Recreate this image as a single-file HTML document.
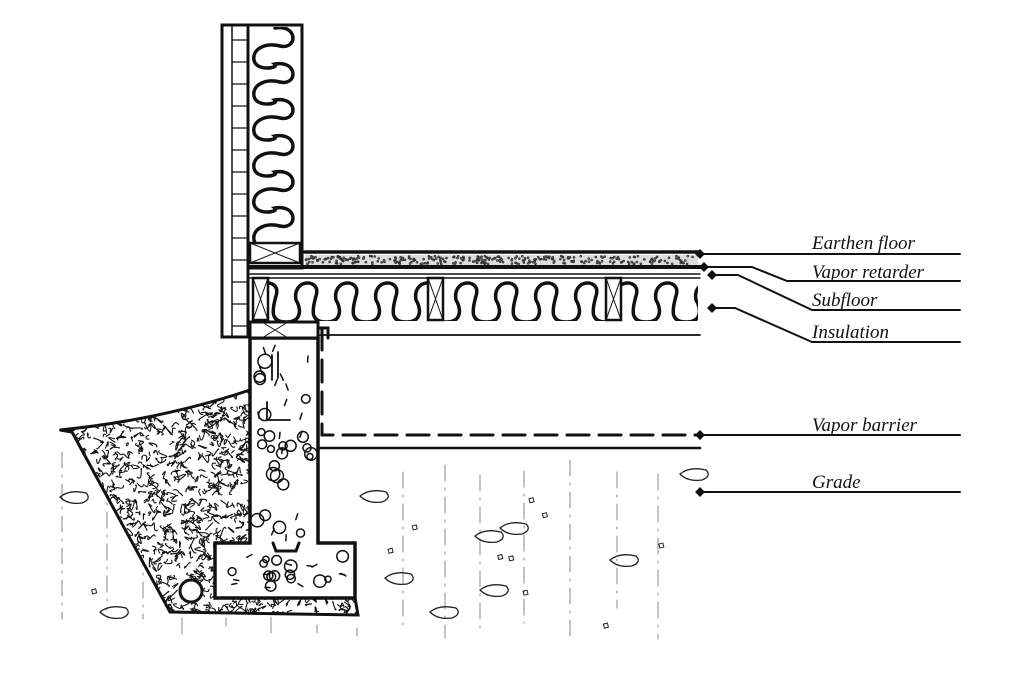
<!DOCTYPE html>
<html><head><meta charset="utf-8"><style>
html,body{margin:0;padding:0;background:#fff;}
svg{display:block}
text{font-family:"Liberation Serif",serif;font-style:italic;font-size:19px;fill:#111}
</style></head><body>
<svg id="s" width="1024" height="683" viewBox="0 0 1024 683" xmlns="http://www.w3.org/2000/svg">
<defs>
<clipPath id="wedge"><path d="M60,430 Q160,420 250,390 L250,545 L215,545 L215,598 L355,598 L358,615 L170,612 Q120,520 72,432 Z"/></clipPath>
<clipPath id="wallc"><rect x="250" y="27" width="50" height="216"/></clipPath>
<clipPath id="floorc"><rect x="250" y="279" width="448" height="42"/></clipPath>
</defs>
<g fill="none" stroke="#111" stroke-linecap="round">
<g id="soil" stroke="#888" stroke-width="1" stroke-dasharray="16 7 2 7"></g>
<path d="M60,430 Q160,420 250,390 L250,545 L215,545 L215,598 L355,598 L358,615 L170,612 Q120,520 72,432 Z" fill="#fff" stroke-width="3"/>
<g id="gravel" stroke-width="1.1" clip-path="url(#wedge)"></g>
<circle cx="191" cy="591" r="11" fill="#fff" stroke-width="3"/>
<path d="M250,338 L318,338 L318,543 L355,543 L355,598 L215,598 L215,543 L250,543 Z" fill="#fff" stroke-width="3.5"/>
<path d="M273,543 L276,551 L296,551 L299,543" stroke-width="3"/>
<g id="agg" stroke-width="1.5"></g>
<path d="M272,355 L272,380 M278,352 L278,378 M267,402 L267,420 L290,420" stroke-width="1.8"/>
<path d="M318,448 L700,448" stroke-width="2.5"/>
<path d="M60,430 L74,430" stroke-width="2"/>
<path d="M322,328 L322,435 L700,435" stroke-width="3" stroke-dasharray="22 10"/>
<rect x="222" y="25" width="26" height="312" fill="#fff" stroke-width="3"/>
<path d="M232,25 L232,337" stroke-width="1.5"/>
<g id="brick" stroke-width="1.2"></g>
<rect x="248" y="25" width="54" height="243" fill="#fff" stroke-width="3"/>
<path d="M302,25 L302,252 L312,252" stroke-width="3"/>
<path id="wwave" stroke-width="3.5" clip-path="url(#wallc)"/>
<rect x="250" y="243" width="50" height="20" stroke-width="2.5"/>
<path d="M250,243 L300,263 M300,243 L250,263" stroke-width="1"/>
<path d="M305,252 L700,252" stroke-width="3.5"/>
<rect x="305" y="255" width="393" height="10" fill="#ddd" stroke="none"/>
<g id="dots" stroke="#333" stroke-width="1"></g>
<path d="M250,267 L700,267" stroke-width="4"/>
<path d="M250,274 L700,274" stroke-width="1.5"/>
<path d="M250,278 L700,278" stroke-width="1.5"/>
<path id="fwave" stroke-width="3.5" clip-path="url(#floorc)"/>
<g stroke-width="2.5" fill="#fff">
<rect x="253" y="278" width="15" height="42"/>
<rect x="428" y="278" width="15" height="42"/>
<rect x="606" y="278" width="15" height="42"/>
</g>
<path d="M253,278 L268,320 M268,278 L253,320 M428,278 L443,320 M443,278 L428,320 M606,278 L621,320 M621,278 L606,320" stroke-width="1"/>
<path d="M318,335 L700,335" stroke-width="1.8"/>
<rect x="250" y="322" width="68" height="16" fill="#fff" stroke-width="3"/>
<path d="M250,322 L318,322 L318,328 L328,328 L328,338" stroke-width="3"/>
<path d="M262,322 L288,338 M288,322 L262,338" stroke-width="1"/>
<g stroke-width="2">
<path d="M700,254 L960,254"/>
<path d="M704,267 L752,267 L787,281 L960,281"/>
<path d="M712,275 L738,275 L812,310 L960,310"/>
<path d="M712,308 L735,308 L812,342 L960,342"/>
<path d="M700,435 L960,435"/>
<path d="M700,492 L960,492"/>
</g>
</g>
<g fill="#111">
<path d="M700,249 l5,5 l-5,5 l-5,-5z"/>
<path d="M704,262 l5,5 l-5,5 l-5,-5z"/>
<path d="M712,270 l5,5 l-5,5 l-5,-5z"/>
<path d="M712,303 l5,5 l-5,5 l-5,-5z"/>
<path d="M700,430 l5,5 l-5,5 l-5,-5z"/>
<path d="M700,487 l5,5 l-5,5 l-5,-5z"/>
</g>
<text x="812" y="249">Earthen floor</text>
<text x="812" y="278">Vapor retarder</text>
<text x="812" y="306">Subfloor</text>
<text x="812" y="338">Insulation</text>
<text x="812" y="431">Vapor barrier</text>
<text x="812" y="488">Grade</text>
</svg>
<script>
var NS="http://www.w3.org/2000/svg";
function add(g,tag,attrs){var e=document.createElementNS(NS,tag);for(var k in attrs)e.setAttribute(k,attrs[k]);document.getElementById(g).appendChild(e);}
// floor wave: omega-like lobes
var d="M262,300";var x=262;
while(x<700){
 d+=" C"+(x+2)+",280 "+(x+22)+",280 "+(x+22)+",292"+
    " C"+(x+22)+",302 "+(x+14)+",306 "+(x+20)+",314"+
    " C"+(x+28)+",322 "+(x+44)+",320 "+(x+42)+",306"+
    " C"+(x+40)+",298 "+(x+34)+",296 "+(x+38)+",290";
 // connect upward to next lobe
 d+=" C"+(x+42)+",282 "+(x+50)+",290 "+(x+48)+",300";
 x+=46; d+=" M"+x+",300";
}
// simpler continuous wave instead
d="M256,300";x=256;
while(x<700){
 d+=" C"+(x-4)+",278 "+(x+26)+",278 "+(x+20)+",296 C"+(x+16)+",310 "+(x+14)+",322 "+(x+30)+",322 C"+(x+48)+",322 "+(x+44)+",306 "+(x+40)+",300";
 x+=40;
 d+=" C"+(x)+",300 "+(x)+",300 "+(x)+",300";
}
document.getElementById("fwave").setAttribute("d",d);
// wall wave: horizontal lobes stacked
var w="M275,28";var y=28;
while(y<245){
 w+=" C298,"+(y-4)+" 298,"+(y+22)+" 280,"+(y+18)+" C264,"+(y+14)+" 252,"+(y+22)+" 254,"+(y+32)+" C256,"+(y+44)+" 280,"+(y+40)+" 275,"+(y+36);
 y+=36;
}
document.getElementById("wwave").setAttribute("d",w);
for(var y=40;y<335;y+=22){add("brick","path",{d:"M232,"+y+" L248,"+y});}
var r=7;function rnd(){r=(r*9301+49297)%233280;return r/233280;}
for(var i=0;i<300;i++){add("dots","circle",{cx:306+rnd()*390,cy:256+rnd()*8,r:0.8});}
// dense gravel squiggles
for(var i=0;i<1500;i++){var gx=60+rnd()*300,gy=388+rnd()*230;
 add("gravel","path",{d:"M"+gx.toFixed(1)+","+gy.toFixed(1)+" q"+(rnd()*8-4).toFixed(1)+","+(rnd()*8-4).toFixed(1)+" "+(rnd()*10-5).toFixed(1)+","+(rnd()*10-5).toFixed(1)+" t"+(rnd()*8-4).toFixed(1)+","+(rnd()*8-4).toFixed(1)});}
// aggregate
for(var i=0;i<40;i++){var ax=257+rnd()*54,ay=345+rnd()*190;
 if(rnd()<0.5)add("agg","circle",{cx:ax,cy:ay,r:3+rnd()*4,fill:"none"});else add("agg","path",{d:"M"+ax+","+ay+" l"+(rnd()*6-3)+",6"});}
for(var i=0;i<25;i++){var ax=224+rnd()*124,ay=556+rnd()*36;
 if(rnd()<0.5)add("agg","circle",{cx:ax,cy:ay,r:3+rnd()*4,fill:"none"});else add("agg","path",{d:"M"+ax+","+ay+" l5,"+(rnd()*6-3)});}
// soil lines (sparser)
for(var x=62;x<700;x+=34+rnd()*14){var y0=(x<250)?445:460;if(x>150&&x<360)y0=620;
 add("soil","path",{d:"M"+x.toFixed(0)+","+(y0+rnd()*20).toFixed(0)+" L"+x.toFixed(0)+","+(600+rnd()*50).toFixed(0)});}
var stones=[[60,497],[360,496],[475,536],[500,528],[610,560],[680,474],[430,612],[100,612],[385,578],[480,590]];
stones.forEach(function(s){add("soil","path",{d:"M"+s[0]+","+s[1]+" q10,-8 26,-4 q6,6 -4,10 q-14,2 -22,-6z",stroke:"#222","stroke-dasharray":"none","stroke-width":"1.3"});});
for(var i=0;i<14;i++){var sx=80+rnd()*600,sy=470+rnd()*170;if(sx>140&&sx<360)continue;add("soil","path",{d:"M"+sx+","+sy+" l4,-1 l1,4 l-4,1z",stroke:"#222","stroke-dasharray":"none"});}
</script>
</body></html>
